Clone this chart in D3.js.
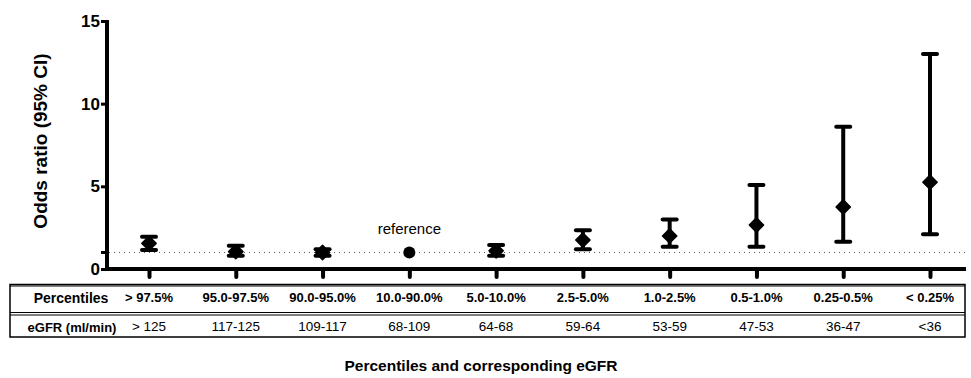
<!DOCTYPE html>
<html><head><meta charset="utf-8">
<script src="https://cdn.jsdelivr.net/npm/d3@7"></script>
<style>body{margin:0;background:#fff}svg{display:block;font-family:"Liberation Sans",Arial,sans-serif}</style>
</head><body><svg id="c" width="971" height="378"></svg>
<script>
const percentiles = ["> 97.5%","95.0-97.5%","90.0-95.0%","10.0-90.0%","5.0-10.0%","2.5-5.0%","1.0-2.5%","0.5-1.0%","0.25-0.5%","< 0.25%"];
const egfr = ["> 125","117-125","109-117","68-109","64-68","59-64","53-59","47-53","36-47","<36"];
const oddsRatio = [1.55,1.05,1.0,1.0,1.1,1.75,2.0,2.66,3.75,5.25];
const ciLower  = [1.15,0.8,0.8,null,0.8,1.2,1.35,1.35,1.65,2.1];
const ciUpper  = [1.95,1.4,1.2,null,1.45,2.35,3.0,5.08,8.6,13.0];
const yTicks = [0,5,10,15];

const svg = d3.select("#c");
const x = d3.scalePoint().domain(percentiles).range([149,930]);
const y = d3.scaleLinear().domain([0,15]).range([269,21]);
const FF = "Liberation Sans, Arial, sans-serif";

// dotted reference line at 1
svg.append("line").attr("x1",109).attr("x2",965).attr("y1",y(1)).attr("y2",y(1))
  .attr("stroke","#555").attr("stroke-width",1).attr("stroke-dasharray","1,4");

// y axis
const yAxis = svg.append("g").attr("transform","translate(107,0)")
  .call(d3.axisLeft(y).tickValues(yTicks).tickSize(6).tickSizeOuter(0).tickPadding(1));
yAxis.select(".domain").remove();
yAxis.append("line").attr("x1",0).attr("x2",0).attr("y1",y(15)-1).attr("y2",y(0)+2).attr("stroke","#000").attr("stroke-width",4);
yAxis.selectAll(".tick line").attr("stroke","#000").attr("stroke-width",3);
yAxis.selectAll(".tick text").attr("font-size",17).attr("font-weight","bold").attr("fill","#000").attr("font-family",FF);
yAxis.append("line").attr("x1",-6).attr("x2",0).attr("y1",y(1)).attr("y2",y(1)).attr("stroke","#000").attr("stroke-width",3);

// x axis
const xAxis = svg.append("g").attr("transform",`translate(0,${y(0)})`)
  .call(d3.axisBottom(x).tickSize(8).tickSizeOuter(0).tickFormat(""));
xAxis.select(".domain").remove();
xAxis.append("line").attr("x1",105).attr("x2",966).attr("y1",0).attr("y2",0).attr("stroke","#000").attr("stroke-width",4);
xAxis.selectAll(".tick line").attr("stroke","#000").attr("stroke-width",4).attr("stroke-linecap","round").attr("y1",2);

// y title
svg.append("text").attr("transform","translate(47,141) rotate(-90)").attr("text-anchor","middle")
  .attr("font-size",19).attr("font-weight","bold").text("Odds ratio (95% CI)");

// error bars
const data = percentiles.map((p,i)=>({p,or:oddsRatio[i],lo:ciLower[i],hi:ciUpper[i]}));
const eb = svg.append("g");
data.filter(d=>d.lo!=null).forEach(d=>{
  const cx = x(d.p);
  eb.append("line").attr("x1",cx).attr("x2",cx).attr("y1",y(d.hi)).attr("y2",y(d.lo)).attr("stroke","#000").attr("stroke-width",4);
  [d.hi,d.lo].forEach(v=>eb.append("line").attr("x1",cx-7).attr("x2",cx+7).attr("y1",y(v)).attr("y2",y(v))
    .attr("stroke","#000").attr("stroke-width",4).attr("stroke-linecap","round"));
});
data.forEach(d=>{
  const cx = x(d.p), cy = y(d.or);
  if (d.lo==null) {
    eb.append("circle").attr("cx",cx).attr("cy",cy).attr("r",6).attr("fill","#000");
  } else {
    eb.append("path").attr("d",d3.symbol(d3.symbolDiamond2,130)()).attr("transform",`translate(${cx},${cy})`)
      .attr("fill","#000").attr("stroke","#000").attr("stroke-width",1.5).attr("stroke-linejoin","round");
  }
});
svg.append("text").attr("x",x(percentiles[3])).attr("y",234).attr("text-anchor","middle").attr("font-size",15).text("reference");

// table
const tb = svg.append("g");
tb.append("rect").attr("x",10).attr("y",284.5).attr("width",955).attr("height",52.5).attr("fill","none").attr("stroke","#000").attr("stroke-width",1.5);
tb.append("line").attr("x1",10).attr("x2",965).attr("y1",286).attr("y2",286).attr("stroke","#000").attr("stroke-width",1);
tb.append("line").attr("x1",10).attr("x2",965).attr("y1",312.5).attr("y2",312.5).attr("stroke","#000").attr("stroke-width",1.2);
tb.append("line").attr("x1",10).attr("x2",965).attr("y1",315).attr("y2",315).attr("stroke","#000").attr("stroke-width",1.2);
tb.append("text").attr("x",71).attr("y",303).attr("text-anchor","middle").attr("font-size",14).attr("font-weight","bold").text("Percentiles");
tb.append("text").attr("x",72).attr("y",332).attr("text-anchor","middle").attr("font-size",13).attr("font-weight","bold").text("eGFR (ml/min)");
percentiles.forEach((p,i)=>{
  tb.append("text").attr("x",x(p)).attr("y",302).attr("text-anchor","middle").attr("font-size",13).attr("font-weight","bold").text(p);
  tb.append("text").attr("x",x(p)).attr("y",331).attr("text-anchor","middle").attr("font-size",13.5).text(egfr[i]);
});

svg.append("text").attr("x",481).attr("y",371).attr("text-anchor","middle").attr("font-size",15.5).attr("font-weight","bold")
  .text("Percentiles and corresponding eGFR");
</script></body></html>
